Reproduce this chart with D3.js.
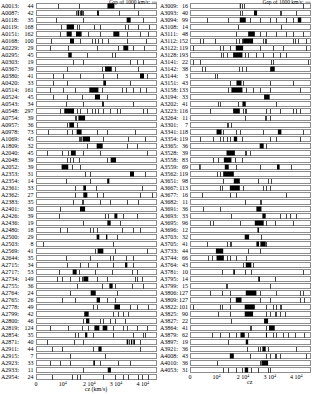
<!DOCTYPE html>
<html><head><meta charset="utf-8">
<script src="https://cdn.jsdelivr.net/npm/d3@7"></script>
<style>body{margin:0;background:#fff}svg{display:block}text{font-family:"Liberation Serif","DejaVu Serif",serif;fill:#000}</style>
</head><body><svg id="c" width="320" height="394"></svg>
<script>
// velocities in units of 1000 km/s
const leftNames = ["A0013","A0087","A0118","A0119","A0151","A0168","A0229","A0295","A0303","A0367","A0380","A0420","A0514","A0524","A0543","A0548","A0754","A0957","A0978","A1069","A1809","A2040","A2048","A2052","A2353","A2354","A2361","A2362","A2383","A2401","A2426","A2436","A2480","A2500","A2503","A2569","A2644","A2715","A2717","A2734","A2755","A2764","A2765","A2778","A2799","A2800","A2819","A2854","A2871","A2911","A2915","A2923","A2933","A2954"];
const leftCounts = [44,42,35,168,162,100,29,45,19,39,41,33,161,45,34,297,39,36,73,45,32,45,39,39,31,14,33,27,35,30,39,19,18,29,8,41,35,34,53,149,36,24,26,49,42,46,124,35,40,44,7,33,11,24];
const leftLines = [
[8.1,16.0,36.8],[15,15.8,16.6,17.6,23.1,31.2,38.4],[7.5,17.75,40.25],[9.4,15.3,16.1,21.9,24,33.4,34.6,38.4,42.25],
[9,19.6,24,34,39,42],[5.5,16.5,20.9,22,23.4,24.6,27.1,34,41.1],[5.25,12.1,22.75,30.9,36.5,40.6],[19,28.4,29.6],
[14,17.75,35.25,37.75,40.25],[11.5,24.6,29.6,38.4],[6.5,10.25,16.5,25.25,30.25,41.75],[6.5,11.5,35.25],
[5.25,10.25,14.6,24.6,32.1,33.75,36.5,39,41.25],[6.5,11.5,17.1,26.5],[11.25,17.75,25,36.5],
[9,15.25,16.5,19,21,22.1,23.4,25.25,27.75,30.25,31.5,40.25,41.5],[14.6,15],[11.5,15.25],[4.6,11.5,13.4,22.75,26.5,37.1],
[16.1,16.5,16.9,25.25,34.6,40.9],[19,34,37.75],[4,9.6,12.1,17.75,24,41.5],[11.5,12.75,14,16.1,26.5],[13.4,16.5],
[18.4,20.25,40.9],[11.25,20.25,26.5],[14.6,22.5,39.6],[14.6,18.4,22.75,25.25,39,43.5],[14,17.1,17.75,24,27.75,34,38.4],
[9],[8.75,25.9,27.1,32.75,37.75],[17.75,31.5],[9,11.5,20.25,21.5,22.75,32.1,36.5,39],[30.25],[2.75,29],[22.1,29.6,41.5],
[11.25,20.25,27.75,29,33.6,36.5],[11.5,16.5,19.4,22.75,29,36.5],[8.75,16.25,22.1,28.4,35.9,37.75],
[7.75,9.6,12.75,16.25,17.1,22.75,26.5,37.1,37.75,39.6],[15.25,24.6,29.6,35.9,40.25],[12.75,30.25],[9.6,14.6,26.5,29.6],
[21.5,22.75,35.25,37.75,42.1],[28.75,30.9,32.75,34.4],[17.75,24,25.25,27.75,29.6,33.4],[5.25,12.1,17.1,19.6,29,32.75,34,37.75,41.5],
[14.6,15.9,21.5,29,36.5,40.25,40.9],[4,14.25,17.75,35,39],[6.1,9.6,21.5,39],[12.75,25.9],[5.25,9,12.75,24,30.9,35.25],[17.75],
[5.9,13.4,15.25,16.5,25.25,29.6,32.75,34.6,38.4,39.6,42.1]];
const leftBlocks = [
[[26.8,29.4]],[[15.6,16.2],[16.9,17.5],[22.9,23.5]],[[34,35.5]],[[11.5,14.25]],[[11.5,13.4],[15,17.1],[29,31.25]],[[12.75,14.25]],
[[32.75,34.6]],[[12.1,13.4]],[],[[25.9,28.4]],[[39,40.5]],[[25.25,26.25]],[[20,23.4]],[[22.1,24]],[[24.8,25.3]],[[10.6,14.25]],
[[15.9,18.4]],[[12.5,14.25]],[[15.25,17.1]],[[17.5,20.25]],[[22.75,25]],[[13.1,14.9]],[[28,30]],[[9.6,12.1]],[[35.25,36.75]],
[[26.9,27.5]],[[17.75,18.75]],[[17.75,19.25]],[],[[16.5,18.4]],[[29.4,30.5]],[[26.75,28]],[],[[22.75,23.75],[26.25,26.75]],[],
[[23.1,25.25]],[],[[33.4,34.25]],[[13.75,15.25]],[[17.75,19.6]],[[27.5,28.75]],[[20.5,22.4]],[[22.75,24]],[[29.4,31.5]],
[[18.1,19.75]],[[18.75,20]],[[21.9,23.75],[25,26.75]],[[18.4,19.25]],[[34,34.6],[35.6,36.1],[36.5,37.1]],[[23.4,24.6]],[],
[[21.5,22.1]],[[26.9,28.1]],[]];

const rightNames = ["A3009","A3093","A3094","A3108","A3111","A3112","A3122","A3128","A3141","A3142","A3144","A3151","A3158","A3194","A3202","A3223","A3264","A3301","A3341","A3354","A3365","A3528","A3558","A3559","A3562","A3651","A3667","A3677","A3682","A3691","A3693","A3695","A3696","A3703","A3705","A3733","A3744","A3764","A3781","A3795","A3799","A3806","A3809","A3822","A3825","A3827","A3864","A3879","A3897","A3921","A4008","A4010","A4053"];
const rightCounts = [16,40,99,14,48,152,119,193,22,38,3,43,133,33,41,116,11,7,118,119,36,39,83,69,119,98,113,16,11,36,33,96,12,32,41,44,66,43,10,14,15,127,127,101,90,22,41,62,19,36,43,36,31];
const rightLines = [
[19.4,20.25,42.5],[18.75,19.75,33.75,34.4,40],[6.25,14.4,22.5,26.25,30,32.5,36.25,38.75],[18.1,34.4],[17.5,26.25,28.75,32.5,36.25,38.75,42.5],
[3.75,5,9.4,17.5,18.5,19.5,27.5,28.1,28.75,38.75,39.4,40.6,43.75],[1.25,11.25,12.5,15,26.25,31.25,35,43.75],
[11.5,12.5,13.75,20.6,21.9,25,27.5,31.25,33.75,36.25],[1.25,3.75,30.4,31.25,44.4],[4.4,5.6,18.5,19.4,21.25,30],[9.4,10],
[15,20,30,38.75],[14.4,21.25,23.75,26.25,30,41.25],[],[10.6,11.25,18.1,32.5],[7.5,20,20.6,21.25,28.75,30,33.75,38.75,40,41.25],
[20.6,28.1,28.75,30],[13.75,14.4,15.6],[12.5,17.5,18.75,27.5,42.5],[3.75,8.75,11.25,12.5,13.75,15,19.4,30,32.5,41.25],[28.75],
[20.6,21.25,22.5],[8.75,10.6,16.9,19.4],[17.5,26.25,38.1],[10,11.25],[12.5,25.6,29.4,30.6],[11.25,11.9,20,27.5,28.75,30],
[4.4,15,17.5,36.25],[20.6,26.25,26.9],[5,11.25],[15.6,33.75,36.25,37.5,40],[7.5,8.75,18.75,28.75,31.9,38.75],[25.6],[26.9],
[6.25,13.75,15,15.6,28.75],[21.9,26.25],[6.9,8.1,13.75,15,17.5,21.25],[20,23.75],[11.9,16.5,20.6,23.1,42.5],[25.9,31.9],
[13.5,13.75,30],[7.5,11.9,15,26.25,32.5,41.25,42.5],[15,26.25,30,41.25,43.1],[1.25,11.25,11.9,15,28.75,31.25,32.5,33.75,34.4],
[10.6,15,28.75,30,31.9,32.5,33.75,35.6],[15.6],[22.5,23.1,28.75],[8.1,11.25,14.75,17.5,21.9,31.25,32.5,35,36.9,39.4,43.1],
[14.4],[21.5,25.6,26.25,29.4,40],[22.5,28.75,30,31.9,32.5,33.75,43.75],[10,26.25],[12.5,14.4,17.5,19.4,23.1,25.6,29.4,30]];
const rightBlocks = [
[[18.75,19.1]],[[24.1,25.25]],[[18.75,21],[40.6,41.9]],[],[[21.9,24.4]],[[20,23.75]],[[17.25,20]],[[16.25,19.75]],[],[[30.4,31.9]],[],
[[17.5,19.4]],[[15.6,19.75]],[[27.9,30]],[[19.75,21]],[[16.25,18.75]],[],[],[[10,11.9],[33.1,34.4]],[[16.5,17.75]],[[26.25,27.75]],
[[13.75,16.9]],[[12.75,15.6]],[[3.5,4],[13.1,14.6],[32.75,33.75]],[[12.5,16.5]],[[16.5,18.75]],[[15,18.75]],[],[],[[25,26.9]],
[[27.25,28.5]],[[24.4,27.75]],[[25.4,25.9]],[[20.6,22.25]],[[25,26],[26.5,28.5]],[[9.75,12.5]],[[10,12.75]],[[21,23.1]],[[16.3,16.8]],
[[25.7,26.2]],[],[[21,25]],[[17.25,19.4]],[[20.6,24.4]],[[20.6,23.75]],[[27.9,29.4]],[[29.75,31.9]],[[19,20.6],[28.6,29]],[[21,21.9]],
[[27.25,28.5]],[[15,16.5]],[[26.9,29.4]],[[20.6,21.9]]];

const tickValues = [0,10,20,30,40];
const tickLabels = [["0",""],["10","4"],["2 10","4"],["3 10","4"],["4 10","4"]];

const svg = d3.select("#c");
const step = 7, top0 = 6, stripH = 5;

function panel(names, counts, lines, blocks, x0, x1, labX, cntX, axisTitle) {
  const g = svg.append("g");
  const x = d3.scaleLinear().domain([0,45]).range([x0,x1]);
  const y = d3.scalePoint().domain(d3.range(names.length)).range([top0, top0 + step*(names.length-1)]);
  const rows = g.selectAll("g.row").data(names.map((n,i)=>({n,i}))).join("g").attr("class","row");
  rows.append("text").attr("x",labX).attr("y",d=>y(d.i)+2.2).attr("font-size",6).text(d=>d.n+":");
  rows.append("text").attr("x",cntX).attr("y",d=>y(d.i)+2.2).attr("font-size",6).attr("text-anchor","end").text(d=>counts[d.i]);
  rows.append("rect").attr("x",x(0)+0.5).attr("width",x(45)-x(0)).attr("y",d=>y(d.i)-stripH/2).attr("height",stripH)
    .attr("fill","#fff").attr("stroke","#8c8c8c").attr("stroke-width",1).attr("shape-rendering","crispEdges");
  rows.each(function(d){
    const r = d3.select(this);
    r.selectAll("line.v").data(lines[d.i]).join("line").attr("class","v")
      .attr("x1",v=>Math.round(x(v))+0.5).attr("x2",v=>Math.round(x(v))+0.5).attr("y1",y(d.i)-stripH/2).attr("y2",y(d.i)+stripH/2)
      .attr("stroke","#444").attr("stroke-width",1).attr("shape-rendering","crispEdges");
    r.selectAll("rect.b").data(blocks[d.i]).join("rect").attr("class","b")
      .attr("x",b=>x(b[0])).attr("width",b=>Math.max(1,x(b[1])-x(b[0]))).attr("y",y(d.i)-stripH/2).attr("height",stripH)
      .attr("fill","#000");
  });
  const yb = top0 + step*(names.length-1) + stripH/2;
  const tk = g.selectAll("text.tk").data(tickValues).join("text").attr("class","tk")
    .attr("x",v=>x(v)).attr("y",yb+6).attr("font-size",6).attr("text-anchor","middle");
  tk.append("tspan").text((v,i)=>tickLabels[i][0]);
  tk.append("tspan").attr("dy",-2).attr("font-size",4).text((v,i)=>tickLabels[i][1]);
  g.append("text").attr("x",(x0+x1)/2).attr("y",yb+11.5).attr("font-size",6).attr("text-anchor","middle").text(axisTitle);
  // legend
  g.append("text").attr("x",x1-6).attr("y",4.3).attr("font-size",5.5).attr("text-anchor","end").text("Gap of 1000 km/s:");
  g.append("line").attr("x1",x1-4).attr("x2",x1+1).attr("y1",2.2).attr("y2",2.2).attr("stroke","#777").attr("stroke-width",0.8);
  g.append("line").attr("x1",x1-4).attr("x2",x1+1).attr("y1",3.6).attr("y2",3.6).attr("stroke","#777").attr("stroke-width",0.8);
}
panel(leftNames,leftCounts,leftLines,leftBlocks,36,156,1,33.5,"cz (km/s)");
panel(rightNames,rightCounts,rightLines,rightBlocks,190,309.5,160,188,"cz");
</script></body></html>
